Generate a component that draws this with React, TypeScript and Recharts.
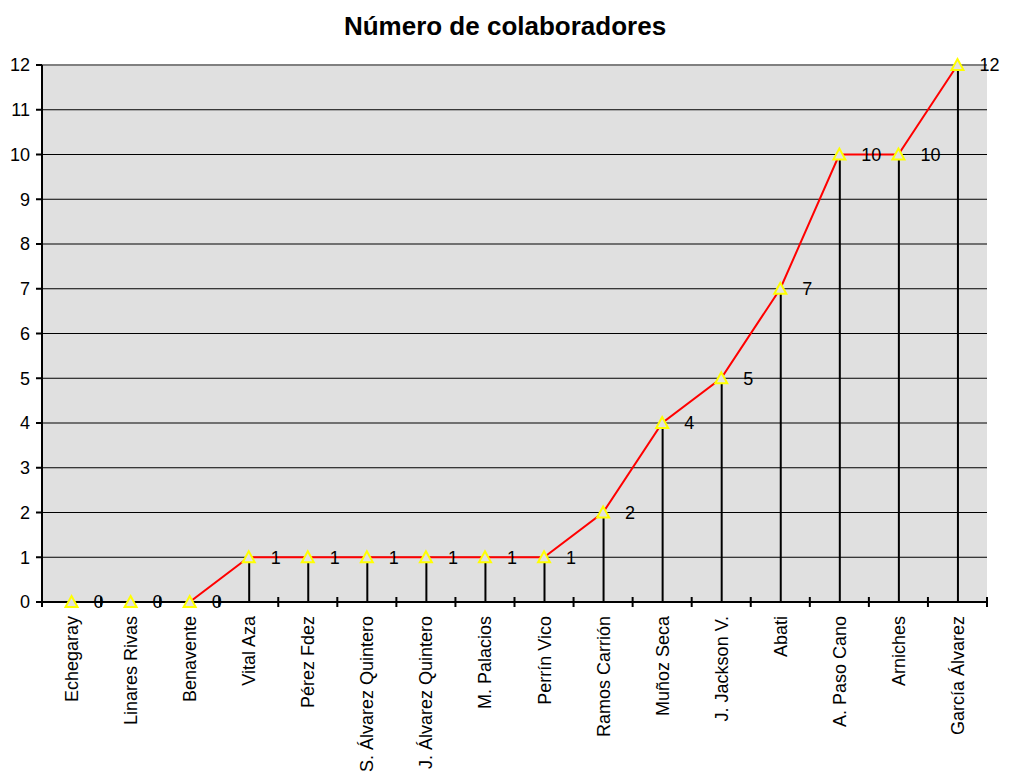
import React from "react";
import {
  ComposedChart,
  Bar,
  Line,
  XAxis,
  YAxis,
  CartesianGrid,
  ReferenceLine,
} from "recharts";

const categories = [
  "Echegaray",
  "Linares Rivas",
  "Benavente",
  "Vital Aza",
  "Pérez Fdez",
  "S. Álvarez Quintero",
  "J. Álvarez Quintero",
  "M. Palacios",
  "Perrín Vico",
  "Ramos Carrión",
  "Muñoz Seca",
  "J. Jackson V.",
  "Abati",
  "A. Paso Cano",
  "Arniches",
  "García Álvarez",
];

const values = [0, 0, 0, 1, 1, 1, 1, 1, 1, 2, 4, 5, 7, 10, 10, 12];

const yTicks = [0, 1, 2, 3, 4, 5, 6, 7, 8, 9, 10, 11, 12];

const title = "Número de colaboradores";

const data = categories.map((name, i) => ({ name, value: values[i] }));

const FONT = "'Liberation Sans', Arial, sans-serif";
const CAT_MARGIN = 14;

const Triangle = (props: any) => {
  const { cx, cy } = props;
  if (cx == null || cy == null) return null;
  return (
    <path
      d={`M${cx},${cy - 6} L${cx + 6},${cy + 5} L${cx - 6},${cy + 5} Z`}
      fill="#E0E0E0"
      stroke="#FFFF00"
      strokeWidth={2}
    />
  );
};

const ValueLabel = (props: any) => {
  const { x, y, value } = props;
  return (
    <text
      x={x + 22}
      y={y}
      dy="0.36em"
      fontSize={18}
      fontFamily={FONT}
      fill="#000"
      textAnchor="start"
    >
      {value}
    </text>
  );
};

const CatTick = (props: any) => {
  const { x, y, payload, index, visibleTicksCount } = props;
  const half = payload && payload.offset ? payload.offset : 0;
  const ay = y - CAT_MARGIN;
  const isLast = index === (visibleTicksCount ?? categories.length) - 1;
  return (
    <g>
      {half > 0 && (
        <line x1={x - half} x2={x - half} y1={ay - 5} y2={ay + 5} stroke="#000" strokeWidth={2} />
      )}
      {half > 0 && isLast && (
        <line x1={x + half} x2={x + half} y1={ay - 5} y2={ay + 5} stroke="#000" strokeWidth={2} />
      )}
      <text
        transform={`translate(${x},${y}) rotate(-90)`}
        x={0}
        y={0}
        dy="0.36em"
        textAnchor="end"
        fontSize={18}
        fontFamily={FONT}
        fill="#000"
      >
        {payload.value}
      </text>
    </g>
  );
};

export default function App() {
  return (
    <div
      style={{
        position: "absolute",
        left: 0,
        top: 0,
        width: 1010,
        height: 773,
        overflow: "hidden",
        fontFamily: FONT,
        background: "#fff",
      }}
    >
      <div
        style={{
          position: "absolute",
          left: 0,
          width: 1010,
          top: 11,
          textAlign: "center",
          fontWeight: "bold",
          fontSize: 26,
          fontFamily: FONT,
          color: "#000",
        }}
      >
        {title}
      </div>
      <ComposedChart
        width={1010}
        height={773}
        data={data}
        margin={{ top: 65, right: 23, left: 0, bottom: 0 }}
      >
        <CartesianGrid
          horizontal
          vertical={false}
          stroke="#000"
          strokeWidth={1}
          fill="#E0E0E0"
          fillOpacity={1}
        />
        <XAxis
          dataKey="name"
          interval={0}
          height={171}
          axisLine={{ stroke: "#000", strokeWidth: 2 }}
          tickLine={false}
          tickSize={0}
          tickMargin={CAT_MARGIN}
          tick={<CatTick />}
        />
        <XAxis
          xAxisId="edge"
          type="number"
          domain={[0, categories.length]}
          allowDataOverflow
          hide
        />
        <YAxis
          width={42}
          domain={[0, 12]}
          ticks={yTicks}
          interval={0}
          axisLine={{ stroke: "#000", strokeWidth: 2 }}
          tickLine={{ stroke: "#000", strokeWidth: 2 }}
          tickSize={6}
          tickMargin={6}
          tick={{ fontSize: 18, fill: "#000", fontFamily: FONT }}
        />
        <ReferenceLine y={12} stroke="#808080" strokeWidth={2} />
        <ReferenceLine xAxisId="edge" x={categories.length} stroke="#808080" strokeWidth={2} />
        <Bar dataKey="value" barSize={2} fill="#000" isAnimationActive={false} />
        <Line
          dataKey="value"
          stroke="#FF0000"
          strokeWidth={2}
          dot={<Triangle />}
          activeDot={false}
          isAnimationActive={false}
          label={<ValueLabel />}
        />
      </ComposedChart>
    </div>
  );
}
